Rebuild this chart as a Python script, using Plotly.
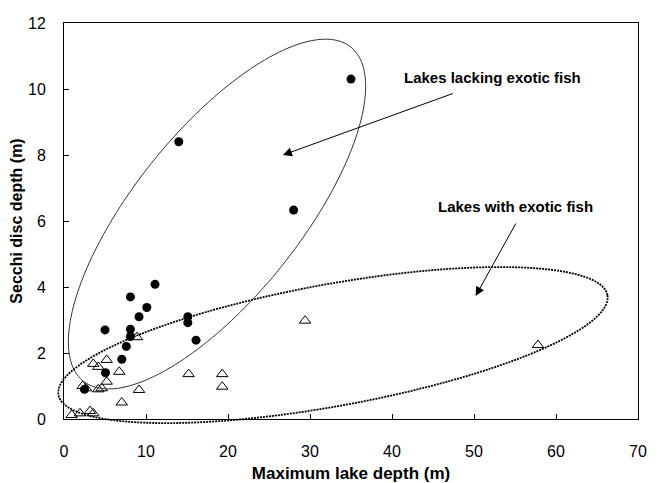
import numpy as np
import plotly.graph_objects as go

# ---- data ----
lacking_x = [35, 14, 28, 11.1, 8.1, 10.1, 9.15, 15.1, 15.1, 5.0, 8.1, 8.1, 16.1, 7.6, 7.05, 5.06, 2.5]
lacking_y = [10.3, 8.4, 6.33, 4.08, 3.7, 3.38, 3.1, 3.1, 2.92, 2.7, 2.72, 2.5, 2.39, 2.2, 1.81, 1.4, 0.9]

exotic_x = [8.9, 5.2, 3.57, 4.18, 6.74, 5.2, 2.28, 2.68, 4.18, 4.6, 9.15, 7.04,
            15.2, 19.3, 19.3, 29.4, 57.8, 0.94, 1.95, 3.17, 3.57]
exotic_y = [2.48, 1.79, 1.67, 1.58, 1.43, 1.13, 1.0, 0.93, 0.9, 0.93, 0.88, 0.5,
            1.36, 1.36, 0.98, 2.98, 2.24, 0.12, 0.17, 0.24, 0.17]

x_range = [0, 70]
y_range = [0, 12]
x_ticks = [0, 10, 20, 30, 40, 50, 60, 70]
y_ticks = [0, 2, 4, 6, 8, 10, 12]

# ellipse envelopes: centre (data units), semi-axes (px), rotation (deg)
ell_lacking = dict(cx=18.66, cy=6.21, a=214, b=83, ang=51.3)
ell_exotic = dict(cx=32.8, cy=2.24, a=279, b=61, ang=10.3)

W, H = 659, 483
ML, MR, MT, MB = 64, 21, 23, 64
PW, PH = W - ML - MR, H - MT - MB


def ellipse_path(e, n=200):
    t = np.linspace(0, 2 * np.pi, n)
    th = np.deg2rad(e["ang"])
    dx = e["a"] * np.cos(t) * np.cos(th) - e["b"] * np.sin(t) * np.sin(th)
    dy = e["a"] * np.cos(t) * np.sin(th) + e["b"] * np.sin(t) * np.cos(th)
    cxp = (e["cx"] - x_range[0]) / (x_range[1] - x_range[0]) * PW
    cyp = (e["cy"] - y_range[0]) / (y_range[1] - y_range[0]) * PH
    px = (cxp + dx) / PW
    py = (cyp + dy) / PH
    pts = " L ".join(f"{a:.5f},{b:.5f}" for a, b in zip(px, py))
    return "M " + pts + " Z"


fig = go.Figure()
fig.add_trace(go.Scatter(
    x=exotic_x, y=exotic_y, mode="markers", name="Lakes with exotic fish",
    marker=dict(symbol="triangle-up-open", size=10, color="black", line=dict(width=1, color="black")),
))
fig.add_trace(go.Scatter(
    x=lacking_x, y=lacking_y, mode="markers", name="Lakes lacking exotic fish",
    marker=dict(symbol="circle", size=9, color="black"),
))

fig.add_shape(type="path", xref="paper", yref="paper", path=ellipse_path(ell_lacking),
              line=dict(color="#333333", width=1))
fig.add_shape(type="path", xref="paper", yref="paper", path=ellipse_path(ell_exotic),
              line=dict(color="black", width=1.8, dash="2px,1px"))

font_family = "Liberation Sans, Arial, sans-serif"

fig.add_annotation(x=26.7, y=8.0, ax=47.6, ay=9.88, xref="x", yref="y", axref="x", ayref="y",
                   text="", showarrow=True, arrowhead=2, arrowsize=1.8, arrowwidth=1, arrowcolor="black")
fig.add_annotation(x=50.2, y=3.73, ax=55.2, ay=5.97, xref="x", yref="y", axref="x", ayref="y",
                   text="", showarrow=True, arrowhead=2, arrowsize=1.8, arrowwidth=1, arrowcolor="black")
fig.add_annotation(x=52.3, y=10.36, xref="x", yref="y", text="<b>Lakes lacking exotic fish</b>",
                   showarrow=False, font=dict(family=font_family, size=15, color="black"))
fig.add_annotation(x=55.0, y=6.45, xref="x", yref="y", text="<b>Lakes with exotic fish</b>",
                   showarrow=False, font=dict(family=font_family, size=15, color="black"))

axis_common = dict(showline=True, linecolor="black", linewidth=1, mirror=True, ticks="inside",
                   ticklen=5, tickcolor="black", showgrid=False, zeroline=False, automargin=False,
                   tickfont=dict(family=font_family, size=16, color="black"))

fig.update_xaxes(range=x_range, tickvals=x_ticks, ticklabelstandoff=18,
                 title=dict(text="<b>Maximum lake depth (m)</b>", standoff=15,
                            font=dict(family=font_family, size=17, color="black")),
                 **axis_common)
fig.update_yaxes(range=y_range, tickvals=y_ticks, ticklabelstandoff=14,
                 title=dict(text="<b>Secchi disc depth (m)</b>", standoff=1,
                            font=dict(family=font_family, size=16, color="black")),
                 **axis_common)

fig.update_layout(width=W, height=H, margin=dict(l=ML, r=MR, t=MT, b=MB),
                  plot_bgcolor="white", paper_bgcolor="white", showlegend=False,
                  font=dict(family=font_family, color="black"))

fig.write_html("out.html")
